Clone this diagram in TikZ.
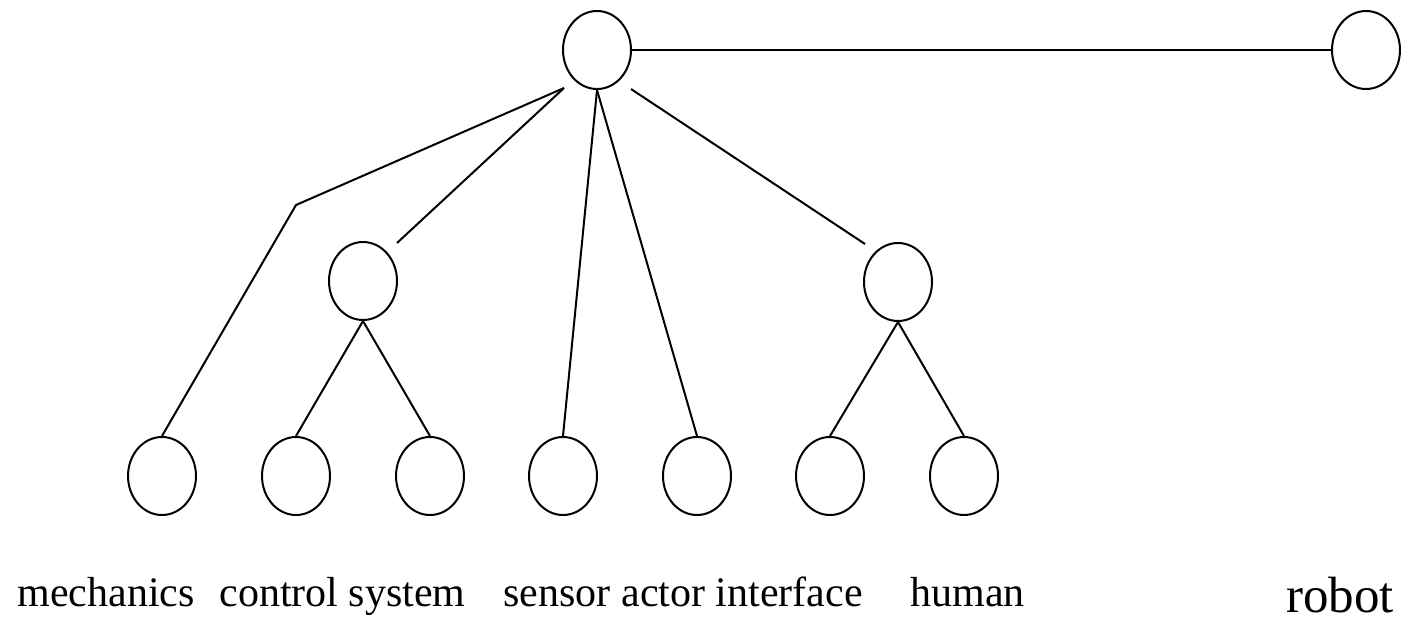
\documentclass[tikz,border=0pt]{standalone}
\usepackage{fontspec}
\setmainfont{Liberation Serif}
\usetikzlibrary{shapes.geometric}
\begin{document}
\begin{tikzpicture}[x=0.5pt,y=-0.5pt,
  nd/.style={draw,ellipse,line width=1pt,minimum width=34pt,minimum height=39pt,inner sep=0pt},
  ln/.style={line width=1pt},
  lbl/.style={anchor=base west,inner sep=0pt,font=\fontsize{21}{25}\selectfont},
  big/.style={anchor=base west,inner sep=0pt,font=\fontsize{25.5}{30}\selectfont}]
\useasboundingbox (0,0) rectangle (1403,616);
% nodes
\node[nd] (top) at (597,50) {};
\node[nd] (robot) at (1366,50) {};
\node[nd] (ml) at (363,281) {};
\node[nd] (mr) at (898,282) {};
\node[nd] (b1) at (162,476) {};
\node[nd] (b2) at (296,476) {};
\node[nd] (b3) at (430,476) {};
\node[nd] (b4) at (563,476) {};
\node[nd] (b5) at (697,476) {};
\node[nd] (b6) at (830,476) {};
\node[nd] (b7) at (964,476) {};
% free ends
\coordinate (tl) at (564,88);
\coordinate (tr) at (631,89);
\coordinate (bend) at (296,205);
\coordinate (mlend) at (397,243);
\coordinate (mrend) at (865,244);
% connectors
\draw[ln] (top.east) -- (robot.west);
\draw[ln] (tl) -- (bend) -- (b1.north);
\draw[ln] (tl) -- (mlend);
\draw[ln] (top.south) -- (b4.north);
\draw[ln] (top.south) -- (b5.north);
\draw[ln] (tr) -- (mrend);
\draw[ln] (ml.south) -- (b2.north);
\draw[ln] (ml.south) -- (b3.north);
\draw[ln] (mr.south) -- (b6.north);
\draw[ln] (mr.south) -- (b7.north);
% labels
\node[lbl] (t1) at (17,606) {mechanics};
\node[lbl] (t2) at (219,606) {control system};
\node[lbl] (t3) at (503,606) {sensor};
\node[lbl] (t4) at (621,606) {actor interface};
\node[lbl] (t5) at (910,606) {human};
\node[big] (t6) at (1286,612) {robot};
\end{tikzpicture}
\end{document}
